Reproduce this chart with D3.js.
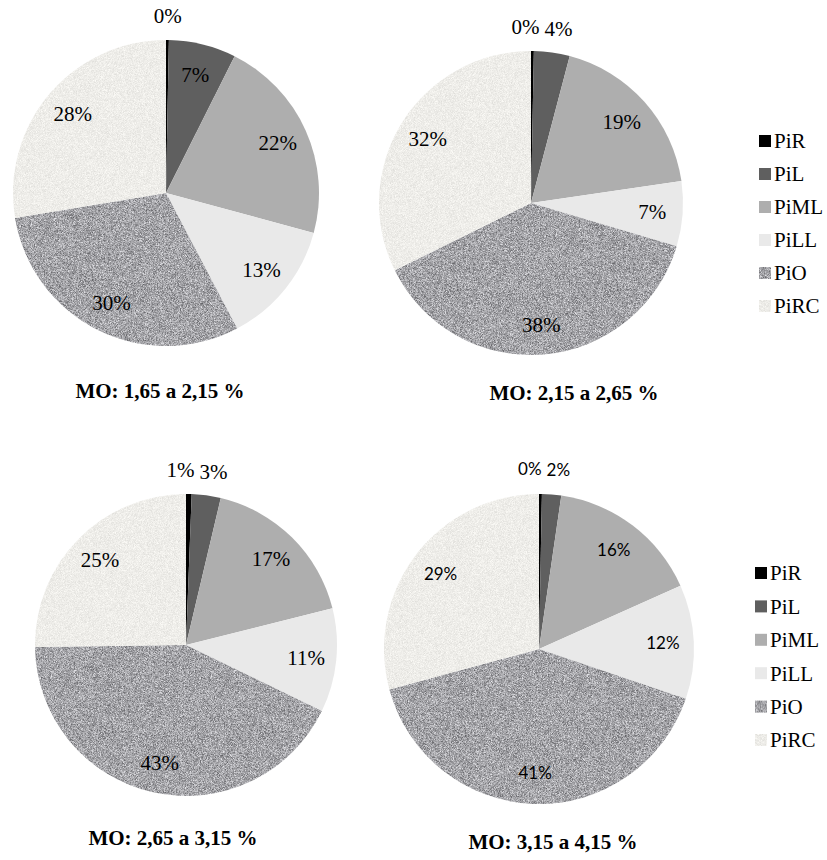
<!DOCTYPE html>
<html>
<head>
<meta charset="utf-8">
<script src="https://cdn.jsdelivr.net/npm/d3@7/dist/d3.min.js"></script>
<style>
  html, body { margin: 0; padding: 0; background: #ffffff; }
  svg { display: block; }
</style>
</head>
<body>
<script>
// Phosphorus fractions (% of total) for four organic-matter classes
const categories = ["PiR", "PiL", "PiML", "PiLL", "PiO", "PiRC"];
const titles = ["MO: 1,65 a 2,15 %", "MO: 2,15 a 2,65 %", "MO: 2,65 a 3,15 %", "MO: 3,15 a 4,15 %"];
const valuesMO1 = [0.3, 7.1, 21.8, 13.1, 30.1, 27.6];
const valuesMO2 = [0.3, 3.8, 18.6, 6.9, 38.1, 32.3];
const valuesMO3 = [0.6, 3.1, 17.4, 11.1, 42.6, 25.2];
const valuesMO4 = [0.3, 2.0, 16.0, 11.9, 40.6, 29.2];

const W = 827, H = 860;
const serif = "'Liberation Serif', 'Times New Roman', serif";
const sans = "Lato, 'Open Sans', sans-serif";

const svg = d3.select("body").append("svg")
  .attr("width", W).attr("height", H);

const defs = svg.append("defs");

// small deterministic PRNG for the grain textures
function prng(seed) {
  return function () {
    seed |= 0; seed = seed + 0x6D2B79F5 | 0;
    let t = Math.imul(seed ^ seed >>> 15, 1 | seed);
    t = t + Math.imul(t ^ t >>> 7, 61 | t) ^ t;
    return ((t ^ t >>> 14) >>> 0) / 4294967296;
  };
}

// per-pixel grain tile, used as an SVG pattern fill
function grainPattern(id, rgb, spread, seed) {
  const size = 160;
  const cv = document.createElement("canvas");
  cv.width = size; cv.height = size;
  const ctx = cv.getContext("2d");
  const img = ctx.createImageData(size, size);
  const rnd = prng(seed);
  for (let i = 0; i < size * size; i++) {
    const n = (rnd() + rnd() + rnd() - 1.5) * spread;
    img.data[i * 4] = Math.max(0, Math.min(255, rgb[0] + n));
    img.data[i * 4 + 1] = Math.max(0, Math.min(255, rgb[1] + n));
    img.data[i * 4 + 2] = Math.max(0, Math.min(255, rgb[2] + n));
    img.data[i * 4 + 3] = 255;
  }
  ctx.putImageData(img, 0, 0);
  defs.append("pattern").attr("id", id)
    .attr("patternUnits", "userSpaceOnUse")
    .attr("width", size).attr("height", size)
    .append("image")
    .attr("href", cv.toDataURL())
    .attr("width", size).attr("height", size)
    .style("image-rendering", "pixelated");
}
grainPattern("grain-o", [164, 164, 168], 48, 11);
grainPattern("grain-rc", [238, 237, 233], 11, 29);

const color = d3.scaleOrdinal()
  .domain(categories)
  .range(["#000000", "#5f5f5f", "#aeaeae", "#e9e9e9", "url(#grain-o)", "url(#grain-rc)"]);

const pies = [
  { values: valuesMO1, title: titles[0], cx: 166, cy: 193, r: 153, tx: 160, ty: 398, font: serif, size: 21 },
  { values: valuesMO2, title: titles[1], cx: 531, cy: 203, r: 152, tx: 574, ty: 400, font: serif, size: 21 },
  { values: valuesMO3, title: titles[2], cx: 186, cy: 645, r: 151, tx: 173, ty: 845, font: serif, size: 21 },
  { values: valuesMO4, title: titles[3], cx: 539, cy: 649, r: 155, tx: 553, ty: 849, font: sans, size: 17 }
];

const pieGen = d3.pie().sort(null).value(d => d.value);

pies.forEach(p => {
  const data = categories.map((c, i) => ({ cat: c, value: p.values[i] }));
  const arcs = pieGen(data);
  const arc = d3.arc().innerRadius(0).outerRadius(p.r);
  const g = svg.append("g").attr("transform", `translate(${p.cx},${p.cy})`);

  g.selectAll("path.slice").data(arcs).join("path")
    .attr("class", "slice")
    .attr("d", arc)
    .attr("fill", d => color(d.data.cat));

  const inner = d3.arc().innerRadius(p.r * 0.8).outerRadius(p.r * 0.8);
  const outer = d3.arc().innerRadius(p.r * 1.16).outerRadius(p.r * 1.16);

  const labels = g.selectAll("text.lbl").data(arcs).join("text")
    .attr("class", "lbl")
    .attr("font-family", p.font)
    .attr("font-size", p.size)
    .attr("fill", "#000")
    .attr("text-anchor", "middle")
    .attr("dy", "0.35em")
    .text(d => Math.round(d.data.value) + "%")
    .each(function (d) {
      const small = d.data.value < 5;
      const [x, y] = (small ? outer : inner).centroid(d);
      d.lx = x; d.ly = y; d.small = small;
      d.w = this.getComputedTextLength();
    });

  // spread apart the small outside labels near the top so they do not overlap
  const outs = arcs.filter(d => d.small);
  for (let it = 0; it < 20; it++) {
    for (let i = 1; i < outs.length; i++) {
      const a = outs[i - 1], b = outs[i];
      const overlap = (a.lx + a.w / 2 + 5) - (b.lx - b.w / 2);
      if (overlap > 0) { a.lx -= overlap * 0.7; b.lx += overlap * 0.3; }
    }
  }
  labels.attr("x", d => d.lx).attr("y", d => d.ly);

  svg.append("text")
    .attr("x", p.tx).attr("y", p.ty)
    .attr("text-anchor", "middle")
    .attr("font-family", serif)
    .attr("font-weight", "bold")
    .attr("font-size", 21)
    .attr("fill", "#000")
    .text(p.title);
});

// two legends, one per row of pies
const legends = [
  { x: 759, y0: 141, step: 33 },
  { x: 755, y0: 573, step: 33.4 }
];
legends.forEach(L => {
  const g = svg.append("g");
  const items = g.selectAll("g.item").data(categories).join("g")
    .attr("class", "item")
    .attr("transform", (d, i) => `translate(${L.x},${L.y0 + i * L.step})`);
  items.append("rect")
    .attr("x", 0).attr("y", -6).attr("width", 12).attr("height", 12)
    .attr("fill", d => color(d));
  items.append("text")
    .attr("x", 15).attr("y", 0).attr("dy", "0.35em")
    .attr("font-family", serif).attr("font-size", 21).attr("fill", "#000")
    .text(d => d);
});
</script>
</body>
</html>
